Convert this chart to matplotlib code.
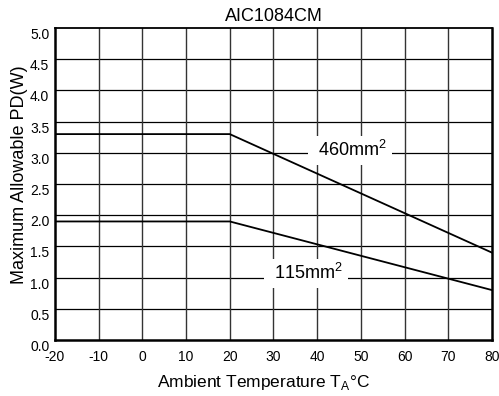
import matplotlib
matplotlib.use("Agg")
import matplotlib.pyplot as plt

plt.rcParams['font.family'] = ['Liberation Sans', 'DejaVu Sans']
plt.rcParams['mathtext.fontset'] = 'custom'
plt.rcParams['mathtext.rm'] = 'Liberation Sans'
plt.rcParams['axes.unicode_minus'] = False

# data
temp = [-20, 20, 80]
pd_460 = [3.3, 3.3, 1.4]
pd_115 = [1.9, 1.9, 0.8]

x_ticks = [-20, -10, 0, 10, 20, 30, 40, 50, 60, 70, 80]
y_ticks = [0.0, 0.5, 1.0, 1.5, 2.0, 2.5, 3.0, 3.5, 4.0, 4.5, 5.0]

fig = plt.figure(figsize=(4.99, 3.96), dpi=100)
ax = fig.add_axes([0.110, 0.1414, 0.876, 0.7878])

# grid
for yv in y_ticks[1:-1]:
    ax.axhline(yv, color='black', lw=0.9, zorder=1)
for xv in x_ticks[1:-1]:
    ax.axvline(xv, color='#333333', lw=1.0, zorder=1)

ax.plot(temp, pd_460, color='black', lw=1.3, zorder=3)
ax.plot(temp, pd_115, color='black', lw=1.3, zorder=3)

box = dict(boxstyle='square,pad=0.25', fc='white', ec='none')
ax.text(47.5, 3.04, ' 460mm$^\\mathregular{2}$ ', fontsize=13, ha='center', va='center',
        bbox=box, zorder=4)
ax.text(37.5, 1.07, ' 115mm$^\\mathregular{2}$ ', fontsize=13, ha='center', va='center',
        bbox=box, zorder=4)

ax.set_xlim(-20, 80)
ax.set_ylim(0, 5.0)
ax.set_xticks(x_ticks)
ax.set_yticks(y_ticks)
ax.set_yticklabels(['%.1f' % v for v in y_ticks])
ax.tick_params(length=0, labelsize=10)
ax.tick_params(axis='x', pad=7)
ax.tick_params(axis='y', pad=4)
for lab in ax.get_yticklabels():
    lab.set_va('top')

for side in ['left', 'bottom', 'right']:
    ax.spines[side].set_linewidth(1.8)
ax.spines['top'].set_linewidth(1.3)

ax.set_title('AIC1084CM', fontsize=13, pad=5)
ax.set_xlabel('Ambient Temperature T$_\\mathregular{A}$°C', fontsize=12.5)
ax.xaxis.set_label_coords(0.478, -0.105)
ax.set_ylabel('Maximum Allowable PD(W)', fontsize=13)
ax.yaxis.set_label_coords(-0.062, 0.53)

fig.savefig('out.png', dpi=100)
